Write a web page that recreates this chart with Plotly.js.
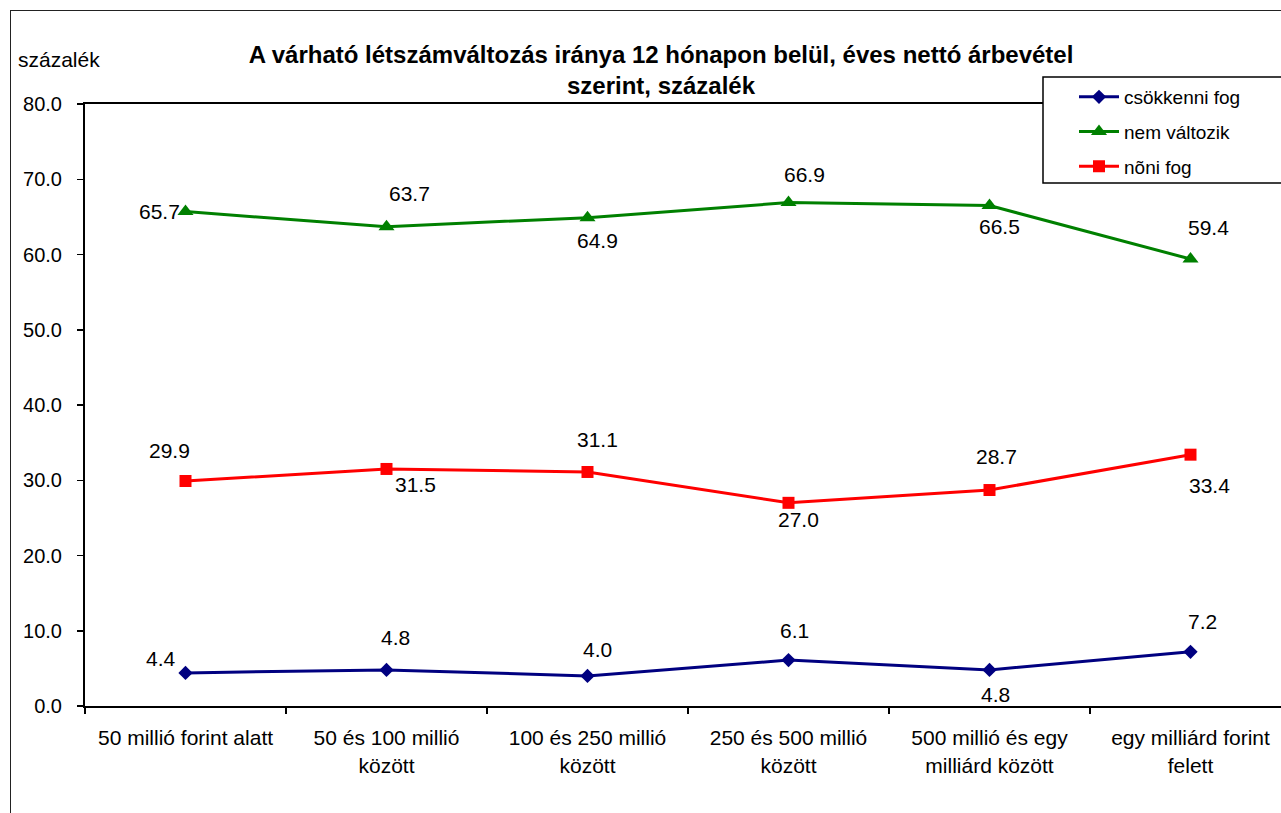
<!DOCTYPE html>
<html>
<head>
<meta charset="utf-8">
<script src="https://cdn.plot.ly/plotly-3.0.1.min.js"></script>
<style>
  html, body { margin: 0; padding: 0; background: #fff; overflow: hidden; width: 1281px; height: 813px; }
  #frame { position: absolute; left: 10px; top: 10px; width: 1400px; height: 900px; border-left: 1.5px solid #222; border-top: 1.5px solid #222; }
  #chart { position: absolute; left: 0; top: 0; width: 1300px; height: 813px; }
</style>
</head>
<body>
<div id="frame"></div>
<div id="chart"></div>
<script>
// ---- data ----
const categories = [
  "50 millió forint alatt",
  "50 és 100 millió<br>között",
  "100 és 250 millió<br>között",
  "250 és 500 millió<br>között",
  "500 millió és egy<br>milliárd között",
  "egy milliárd forint<br>felett"
];
const seriesNames = ["csökkenni fog", "nem változik", "nõni fog"];
const csokkenni = [4.4, 4.8, 4.0, 6.1, 4.8, 7.2];
const nemValtozik = [65.7, 63.7, 64.9, 66.9, 66.5, 59.4];
const noni = [29.9, 31.5, 31.1, 27.0, 28.7, 33.4];
const yTicks = [0, 10, 20, 30, 40, 50, 60, 70, 80];

// ---- styling (label offsets in px, not data) ----
const colors = ["#000080", "#008000", "#FF0000"];
const symbols = ["diamond", "triangle-up", "square"];
const msizes = [11, 14, 12];
const labelOffsets = [
  [[-25, 14], [9, 32], [10, 26], [6, 30], [6, -25], [12, 30]],
  [[-26, 0], [23, 33], [10, -23], [16, 28], [10, -21], [18, 32]],
  [[-16, 31], [29, -16], [10, 32], [10, -17], [7, 34], [19, -31]]
];

const allSeries = [csokkenni, nemValtozik, noni];
const FONT = "Liberation Sans, Arial, sans-serif";

const traces = allSeries.map((vals, i) => ({
  type: "scatter",
  mode: "lines+markers",
  name: seriesNames[i],
  x: categories,
  y: vals,
  legendgroup: "g" + i,
  line: { color: colors[i], width: 3 },
  marker: { symbol: symbols[i], size: msizes[i], color: colors[i] },
  hoverinfo: "skip"
}));

const annotations = [];
allSeries.forEach((vals, i) => {
  vals.forEach((v, j) => {
    annotations.push({
      x: categories[j], y: v, xref: "x", yref: "y",
      text: v.toFixed(1), showarrow: false,
      xshift: labelOffsets[i][j][0], yshift: labelOffsets[i][j][1],
      font: { family: FONT, size: 21, color: "#000" }
    });
  });
});

// plot area pixels: x 85..1291, y 104..706
const PL = 85, PR = 1291, PT = 104, PB = 706;
const px2x = p => (p - PL) / (PR - PL);
const px2y = p => (PB - p) / (PB - PT);

annotations.push({
  xref: "paper", yref: "paper", x: px2x(16), y: px2y(60),
  xanchor: "left", yanchor: "middle", showarrow: false,
  text: "százalék", font: { family: FONT, size: 21, color: "#000" }
});

const layout = {
  width: 1300, height: 813,
  margin: { l: PL, r: 1300 - PR, t: PT, b: 813 - PB, pad: 0 },
  paper_bgcolor: "rgba(0,0,0,0)",
  plot_bgcolor: "#fff",
  showlegend: true,
  title: {
    text: "<b>A várható létszámváltozás iránya 12 hónapon belül, éves nettó árbevétel<br>szerint, százalék</b>",
    font: { family: FONT, size: 24, color: "#000" },
    x: 661 / 1300, xanchor: "center", xref: "container",
    y: 1 - 63 / 813, yanchor: "middle", yref: "container"
  },
  xaxis: {
    type: "category",
    range: [-0.5, 5.5],
    showline: true, linecolor: "#000", linewidth: 2, mirror: true,
    ticks: "outside", ticklen: 6, tickcolor: "#000", tickwidth: 1.5,
    tickson: "boundaries",
    ticklabelstandoff: 12,
    showgrid: false, zeroline: false,
    tickfont: { family: FONT, size: 21, color: "#000" },
    automargin: false
  },
  yaxis: {
    range: [0, 80],
    tickvals: yTicks,
    ticktext: yTicks.map(t => t.toFixed(1)),
    showline: true, linecolor: "#000", linewidth: 2, mirror: true,
    ticks: "outside", ticklen: 6, tickcolor: "#000", tickwidth: 1.5,
    ticklabelstandoff: 11,
    showgrid: false, zeroline: false,
    tickfont: { family: FONT, size: 20, color: "#000" },
    automargin: false
  },
  legend: {
    x: px2x(1074), y: px2y(78), xanchor: "left", yanchor: "top",
    xref: "paper", yref: "paper",
    bgcolor: "rgba(0,0,0,0)", borderwidth: 0,
    traceorder: "grouped", tracegroupgap: 7,
    itemwidth: 40,
    font: { family: FONT, size: 19, color: "#000" }
  },
  shapes: [{
    type: "rect", xref: "paper", yref: "paper",
    x0: px2x(1043), x1: px2x(1320), y0: px2y(183), y1: px2y(77),
    line: { color: "#000", width: 1.5 }, fillcolor: "#fff", layer: "above"
  }],
  annotations: annotations
};

Plotly.newPlot("chart", traces, layout, { displayModeBar: false, staticPlot: true });
</script>
</body>
</html>
